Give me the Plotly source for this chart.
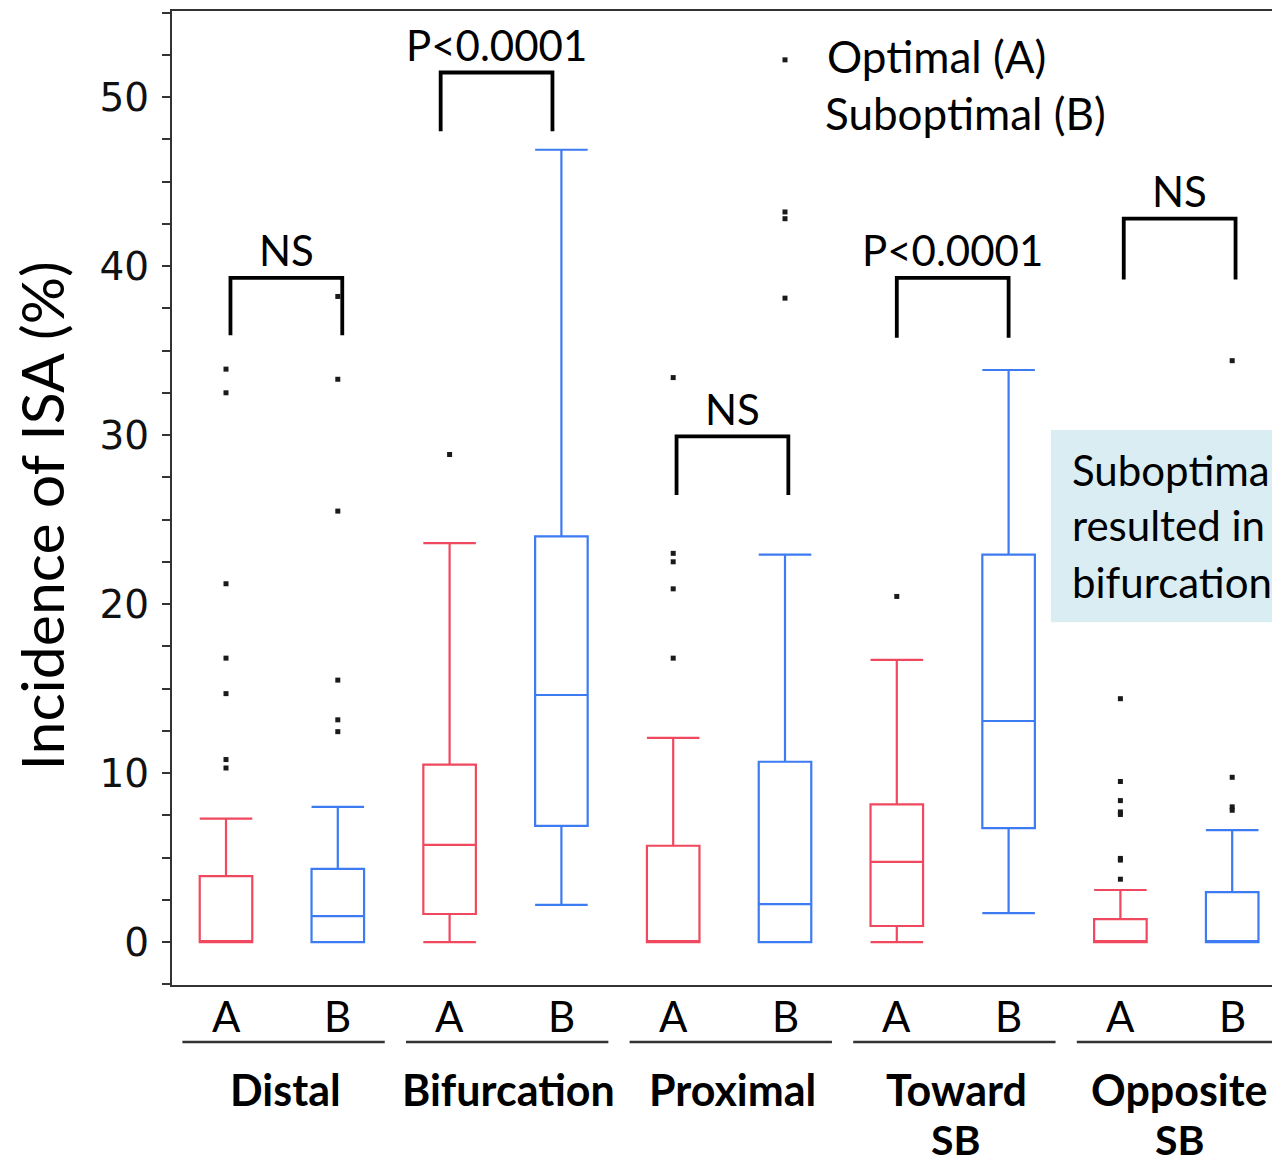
import plotly.graph_objects as go

# ---------------- data ----------------
groups_line1 = ["Distal", "Bifurcation", "Proximal", "Toward", "Opposite"]
groups_line2 = ["", "", "", "SB", "SB"]
arms = ["A", "B"]

# Optimal (A)
q1_A = [0.0, 1.66, 0.0, 0.95, 0.0]
med_A = [0.0, 5.75, 0.0, 4.75, 0.0]
q3_A = [3.9, 10.5, 5.7, 8.15, 1.36]
low_A = [0.0, 0.0, 0.0, 0.0, 0.0]
up_A = [7.3, 23.6, 12.08, 16.7, 3.08]
out_A = [
    [33.9, 32.5, 21.2, 16.8, 14.7, 10.8, 10.3],
    [28.85],
    [33.4, 23.0, 22.5, 20.9, 16.8],
    [20.45],
    [14.4, 9.5, 8.37, 7.7, 7.55, 4.95, 4.85, 3.72],
]

# Suboptimal (B)
q1_B = [0.0, 6.88, 0.0, 6.74, 0.0]
med_B = [1.53, 14.62, 2.25, 13.08, 0.0]
q3_B = [4.33, 24.0, 10.67, 22.92, 2.95]
low_B = [0.0, 2.2, 0.0, 1.71, 0.0]
up_B = [8.0, 46.88, 22.92, 33.85, 6.62]
out_B = [
    [38.2, 33.3, 25.5, 15.5, 13.15, 12.45],
    [],
    [52.2, 43.2, 42.8, 38.1],
    [],
    [34.4, 9.75, 8.0, 7.8],
]

# significance brackets
tests = ["NS", "P<0.0001", "NS", "P<0.0001", "NS"]
bracket_top = [39.3, 51.45, 29.92, 39.3, 42.8]
bracket_foot = [35.9, 47.98, 26.45, 35.76, 39.2]

y_ticks = [0, 10, 20, 30, 40, 50]

# ---------------- styles ----------------
RED = "#F0485E"
BLUE = "#3C7BF2"
AXC = "#333333"
FONT = "Lato"
bracket_shift = [0.04, -0.08, 0.03, 0.0, 0.03]   # horizontal nudge of each bracket

pos_A = [2 * i for i in range(len(groups_line1))]
pos_B = [2 * i + 1 for i in range(len(groups_line1))]

fig = go.Figure()

for pos, q1, med, q3, lo, up, col in [
    (pos_A, q1_A, med_A, q3_A, low_A, up_A, RED),
    (pos_B, q1_B, med_B, q3_B, low_B, up_B, BLUE),
]:
    fig.add_trace(go.Box(
        x=pos, q1=q1, median=med, q3=q3, lowerfence=lo, upperfence=up,
        width=0.47, whiskerwidth=1, boxpoints=False,
        line=dict(color=col, width=2.2),
        fillcolor="rgba(255,255,255,0)",
        showlegend=False, hoverinfo="skip",
    ))

# outliers
ox, oy = [], []
for pos, outs in [(pos_A, out_A), (pos_B, out_B)]:
    for p, vals in zip(pos, outs):
        for v in vals:
            ox.append(p)
            oy.append(v)
fig.add_trace(go.Scatter(
    x=ox, y=oy, mode="markers",
    marker=dict(symbol="square", size=5, color="#1a1a1a"),
    showlegend=False, hoverinfo="skip",
))

# brackets
for i, (t, top, foot) in enumerate(zip(tests, bracket_top, bracket_foot)):
    xl = pos_A[i] + bracket_shift[i]
    xr = pos_B[i] + bracket_shift[i]
    fig.add_trace(go.Scatter(
        x=[xl, xl, xr, xr], y=[foot, top, top, foot], mode="lines",
        line=dict(color="black", width=3.8),
        showlegend=False, hoverinfo="skip",
    ))
    fig.add_annotation(
        x=(xl + xr) / 2, y=top + 1.65, xref="x", yref="y",
        text=t, showarrow=False, xanchor="center", yanchor="middle",
        font=dict(family=FONT, size=42, color="black"),
    )

# legend-like text
fig.add_annotation(x=5.36, y=52.4, xref="x", yref="y", text="Optimal (A)",
                   showarrow=False, xanchor="left", yanchor="middle",
                   font=dict(family=FONT, size=44, color="black"))
fig.add_annotation(x=5.34, y=49.05, xref="x", yref="y", text="Suboptimal (B)",
                   showarrow=False, xanchor="left", yanchor="middle",
                   font=dict(family=FONT, size=44, color="black"))

# text box on the right
fig.add_shape(type="rect", xref="x", yref="y", x0=7.379, x1=10.0, y0=18.93, y1=30.3,
              fillcolor="#DAEDF3", line=dict(width=0), layer="below")
for txt, yy in zip(["Suboptimal", "resulted in", "bifurcation"], [27.93, 24.67, 21.3]):
    fig.add_annotation(x=7.55, y=yy, xref="x", yref="y", text=txt,
                       showarrow=False, xanchor="left", yanchor="middle",
                       font=dict(family=FONT, size=42, color="black"))

# x category labels (A / B), underlines, group names
for i in range(len(groups_line1)):
    for p, lab in [(pos_A[i], arms[0]), (pos_B[i], arms[1])]:
        fig.add_annotation(x=p, y=-0.032, xref="x", yref="paper", text=lab,
                           showarrow=False, xanchor="center", yanchor="middle",
                           font=dict(family=FONT, size=42, color="black"))
    fig.add_shape(type="line", xref="x", yref="paper",
                  x0=pos_A[i] - 0.39, x1=pos_B[i] + 0.42, y0=-0.0586, y1=-0.0586,
                  line=dict(color=AXC, width=2.5))
    gx = pos_A[i] + 0.53
    fig.add_annotation(x=gx, y=-0.107, xref="x", yref="paper",
                       text="<b>%s</b>" % groups_line1[i],
                       showarrow=False, xanchor="center", yanchor="middle",
                       font=dict(family=FONT, size=43, color="black"))
    if groups_line2[i]:
        fig.add_annotation(x=gx, y=-0.159, xref="x", yref="paper",
                           text="<b>%s</b>" % groups_line2[i],
                           showarrow=False, xanchor="center", yanchor="middle",
                           font=dict(family=FONT, size=41, color="black"))

# y axis title
fig.add_annotation(x=-0.119, y=0.481, xref="paper", yref="paper",
                   text="Incidence of ISA (%)", textangle=-90,
                   showarrow=False, xanchor="center", yanchor="middle",
                   font=dict(family=FONT, size=59, color="black"))

fig.update_layout(
    width=1272, height=1165,
    margin=dict(l=172, r=0, t=11, b=180),
    plot_bgcolor="white", paper_bgcolor="white",
    boxmode="overlay",
    xaxis=dict(range=[-0.483, 9.356], showticklabels=False, ticks="",
               showline=True, mirror=True, linecolor=AXC, linewidth=2,
               showgrid=False, zeroline=False),
    yaxis=dict(range=[-2.54, 55.09], tickvals=y_ticks, ticks="outside",
               ticklen=8, tickwidth=2, tickcolor=AXC,
               showline=True, linecolor=AXC, linewidth=2,
               showgrid=False, zeroline=False, ticklabelstandoff=5,
               tickfont=dict(family="DejaVu Sans", size=39, color="#111111"),
               minor=dict(dtick=2.5, tick0=0, ticks="outside", ticklen=8,
                          tickwidth=2, tickcolor=AXC, showgrid=False)),
)

fig.write_html(
    "out.html",
    include_plotlyjs=True,
    config={"displayModeBar": False},
    post_script="document.body.style.margin='0';document.body.style.overflow='hidden';",
)
